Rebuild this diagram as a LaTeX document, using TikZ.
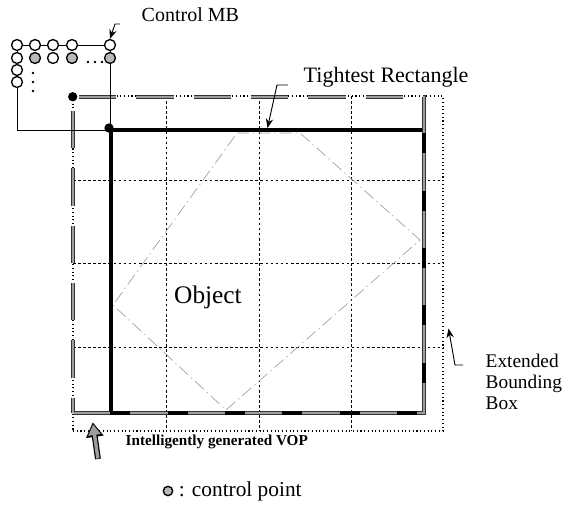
\documentclass[tikz,border=0pt]{standalone}
\usepackage{fontspec}
\setmainfont{Liberation Serif}
\usetikzlibrary{arrows.meta,positioning,fit}
\definecolor{VopGray}{gray}{0.62}
\definecolor{ObjGray}{gray}{0.62}
\tikzset{
  figure/.style={x=0.75pt,y=-0.75pt,>={Stealth[length=7pt,width=5.5pt]}},
  gridline/.style={line width=0.75pt,dash pattern=on 2pt off 1.8pt},
  extbox/.style={draw,line width=0.8pt,dotted,inner sep=0pt},
  tightbox/.style={draw,line width=3pt,inner sep=0pt},
  vopbox/.style={draw=black!80,line width=0.4pt,double=VopGray,double distance=1.6pt,dash pattern=on 28pt off 15pt,inner sep=0pt},
  objline/.style={draw=ObjGray,line width=0.5pt,dash pattern=on 9pt off 3pt on 1pt off 3pt},
  mbpoint/.style={circle,draw,line width=1pt,minimum size=8.2pt,inner sep=0pt,fill=white},
  ctrlpoint/.style={mbpoint,fill=gray!55},
  cornerdot/.style={circle,fill,minimum size=7pt,inner sep=0pt},
  tag/.style={font=\fontsize{15}{17}\selectfont},
  pointer/.style={->,line width=0.7pt},
  fatrim/.style={draw=black,line width=4.4pt,-{Triangle[length=11pt,width=12.5pt]}},
  fatcore/.style={draw=VopGray,line width=2.6pt,shorten >=1.6pt,shorten <=0.4pt,-{Triangle[length=8pt,width=9pt]}},
}
\begin{document}
\begin{tikzpicture}[figure]
  \useasboundingbox (0,0) rectangle (565,515);

  \foreach \gx in {166,259,351}
    \draw[gridline] (\gx,96) -- (\gx,431);
  \foreach \gy in {180,263,347}
    \draw[gridline] (73,\gy) -- (443,\gy);
  \node[extbox,fit={(73,96) (443,431)}] (ext) {};

  \draw[objline] (237,133) -- (300,133) -- (420,240) -- (226,410) -- (113,305) -- cycle;
  \node[font=\fontsize{19}{22}\selectfont] (objlbl) at (208,297) {Object};

  \node[tightbox,fit={(111,130) (424,413)}] (tight) {};
  \node[vopbox,fit={(73,97) (424,413)}] (vop) {};

  \node[draw,line width=0.7pt,inner sep=0pt,fit={(17,45) (110,130)}] (mb) {};
  \foreach \px/\py/\kind [count=\i] in {17/45/mbpoint,35/45/mbpoint,53/45/mbpoint,72/45/mbpoint,
      17/58/mbpoint,35/58/ctrlpoint,53/58/mbpoint,72/58/ctrlpoint,17/70/mbpoint,17/82/mbpoint}
    \node[\kind] (p-\i) at (\px,\py) {};
  \node[mbpoint] (mbtr) at (110,45) {};
  \node[ctrlpoint] (mbcr) at (110,58) {};
  \foreach \dx in {88,95,102}
    \fill (\dx,62) circle[radius=1.1pt];
  \foreach \dy in {73,82,91}
    \fill (33,\dy) circle[radius=1.1pt];

  \node[cornerdot] (vopdot) at (vop.north west) {};
  \node[cornerdot] (tightdot) at (tight.north west) {};

  \node[tag,anchor=west] (mblbl) at (137,15) {Control MB};
  \draw[pointer] ([shift={(-17,9)}]mblbl.west) -- ++(-5,0) -- (mbtr.north);

  \node[tag,font=\fontsize{16.5}{19}\selectfont,anchor=west] (tightlbl) at (299,77) {Tightest Rectangle};
  \draw[pointer] ([shift={(-11,8)}]tightlbl.west) -- ++(-11,0) -- (tight.north);

  \node[font=\fontsize{14.5}{16}\selectfont,align=left,anchor=west] (extlbl) at (481,382)
    {Extended\\Bounding\\Box};
  \draw[pointer] ([shift={(-18,-17)}]extlbl.west) -- ++(-8,0) -- ([shift={(5,65)}]ext.east);

  \node[font=\fontsize{11.4}{14}\selectfont\bfseries,anchor=west] (voplbl) at (121,442)
    {Intelligently generated VOP};
  \draw[fatrim] ([shift={(-23,17)}]voplbl.west) -- ([shift={(20,9)}]vop.south west);
  \draw[fatcore] ([shift={(-23,17)}]voplbl.west) -- ([shift={(20,9)}]vop.south west);

  \node[ctrlpoint,minimum size=7pt] (legdot) at (168,491) {};
  \node[font=\fontsize{16}{18}\selectfont,right=4pt of legdot,inner sep=0pt] (legtxt) {: control point};
\end{tikzpicture}
\end{document}
